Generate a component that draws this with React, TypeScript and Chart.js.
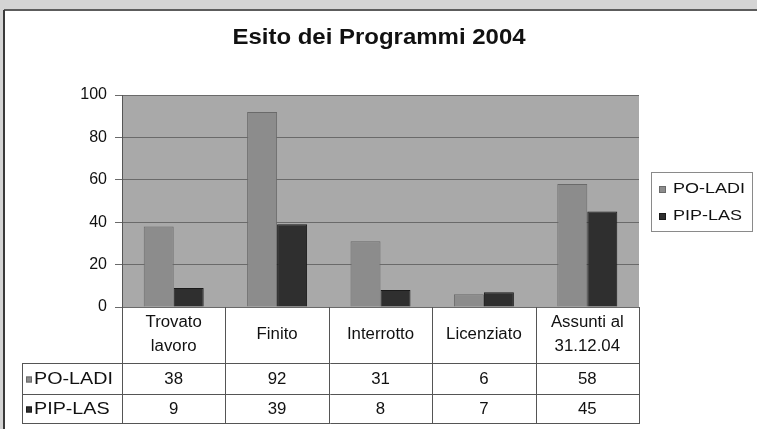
import React, { useEffect, useRef } from "react";
import { Chart, registerables } from "chart.js";

Chart.register(...registerables);

const chartTitle = "Esito dei Programmi 2004";
const categories: string[][] = [
  ["Trovato", "lavoro"],
  ["Finito"],
  ["Interrotto"],
  ["Licenziato"],
  ["Assunti al", "31.12.04"],
];
const seriesNames = ["PO-LADI", "PIP-LAS"];
const poLadi = [38, 92, 31, 6, 58];
const pipLas = [9, 39, 8, 7, 45];
const yMin = 0;
const yMax = 100;
const yStep = 20;

const FONT = "'Liberation Sans', Arial, sans-serif";
const COLORS = ["#8c8c8c", "#2f2f2f"];
const BORDERS = ["#6a6a6a", "#1a1a1a"];

function drawText(
  ctx: CanvasRenderingContext2D,
  text: string,
  x: number,
  y: number,
  font: string,
  align: CanvasTextAlign,
  sx: number
) {
  ctx.save();
  ctx.font = font;
  ctx.textAlign = align;
  ctx.textBaseline = "middle";
  ctx.translate(x, y);
  ctx.scale(sx, 1);
  ctx.fillText(text, 0, 0);
  ctx.restore();
}

const framePlugin = {
  id: "frame",
  beforeDraw(chart: any) {
    const { ctx, width, height, chartArea } = chart;
    ctx.save();
    ctx.fillStyle = "#d4d4d4";
    ctx.fillRect(0, 0, width, height);
    ctx.fillStyle = "#ffffff";
    ctx.fillRect(4, 10, width - 4, height - 10);
    ctx.strokeStyle = "#5c5c5c";
    ctx.lineWidth = 2;
    ctx.beginPath();
    ctx.moveTo(4, 10);
    ctx.lineTo(width, 10);
    ctx.stroke();
    ctx.strokeStyle = "#3a3a3a";
    ctx.beginPath();
    ctx.moveTo(4, 10);
    ctx.lineTo(4, height);
    ctx.stroke();
    ctx.fillStyle = "#a9a9a9";
    ctx.fillRect(chartArea.left, chartArea.top, chartArea.right - chartArea.left, chartArea.bottom - chartArea.top);
    ctx.restore();
  },
  afterDraw(chart: any) {
    const { ctx, chartArea } = chart;
    const xs = chart.scales.x;
    const half = (xs.getPixelForValue(1) - xs.getPixelForValue(0)) / 2;
    const right = chartArea.right;
    const top = chartArea.bottom;
    const headerBottom = top + 56;
    const row1Bottom = headerBottom + 31;
    const row2Bottom = row1Bottom + 29;
    const labelLeft = 22;

    ctx.save();
    ctx.fillStyle = "#111111";
    drawText(ctx, chartTitle, 379, 38, `bold 22px ${FONT}`, "center", 1.09);

    ctx.strokeStyle = "#555555";
    ctx.lineWidth = 1;
    const line = (x1: number, y1: number, x2: number, y2: number) => {
      ctx.beginPath();
      ctx.moveTo(x1, y1);
      ctx.lineTo(x2, y2);
      ctx.stroke();
    };
    line(labelLeft, headerBottom + 0.5, right, headerBottom + 0.5);
    line(labelLeft, row1Bottom + 0.5, right, row1Bottom + 0.5);
    line(labelLeft, row2Bottom + 0.5, right, row2Bottom + 0.5);
    line(labelLeft + 0.5, headerBottom, labelLeft + 0.5, row2Bottom + 1);
    categories.forEach((_, i) => {
      const c = xs.getPixelForValue(i);
      line(Math.round(c - half) + 0.5, top, Math.round(c - half) + 0.5, row2Bottom + 1);
    });
    line(Math.round(right) + 0.5, top, Math.round(right) + 0.5, row2Bottom + 1);

    ctx.fillStyle = "#111111";
    const catFont = `16px ${FONT}`;
    categories.forEach((lines, i) => {
      const c = xs.getPixelForValue(i);
      const mid = (top + headerBottom) / 2;
      const lh = 24;
      lines.forEach((t, k) => {
        drawText(ctx, t, c, mid + (k - (lines.length - 1) / 2) * lh, catFont, "center", 1.05);
      });
    });
    const rows = [poLadi, pipLas];
    const rowMids = [(headerBottom + row1Bottom) / 2 + 1, (row1Bottom + row2Bottom) / 2 + 1];
    rows.forEach((vals, r) => {
      vals.forEach((v, i) => {
        drawText(ctx, String(v), xs.getPixelForValue(i), rowMids[r], catFont, "center", 1.05);
      });
    });
    seriesNames.forEach((name, r) => {
      ctx.fillStyle = COLORS[r];
      ctx.fillRect(26, rowMids[r] - 3, 6, 6);
      ctx.strokeStyle = BORDERS[r];
      ctx.strokeRect(26.5, rowMids[r] - 2.5, 5, 5);
      ctx.fillStyle = "#111111";
      drawText(ctx, name, 34, rowMids[r], `17px ${FONT}`, "left", 1.16);
    });

    const lx = 651;
    const ly = 172;
    const lw = 101;
    const lhgt = 59;
    ctx.fillStyle = "#ffffff";
    ctx.fillRect(lx, ly, lw, lhgt);
    ctx.strokeStyle = "#8a8a8a";
    ctx.strokeRect(lx + 0.5, ly + 0.5, lw, lhgt);
    const items = [189, 216];
    seriesNames.forEach((name, r) => {
      ctx.fillStyle = COLORS[r];
      ctx.fillRect(659, items[r] - 3, 7, 7);
      ctx.strokeStyle = BORDERS[r];
      ctx.strokeRect(659.5, items[r] - 2.5, 6, 6);
      ctx.fillStyle = "#111111";
      drawText(ctx, name, 673, items[r], `15px ${FONT}`, "left", 1.2);
    });
    ctx.restore();
  },
};

export default function App() {
  const ref = useRef<HTMLCanvasElement | null>(null);
  useEffect(() => {
    if (!ref.current) return;
    const chart = new Chart(ref.current, {
      type: "bar",
      data: {
        labels: categories.map((c) => c.join(" ")),
        datasets: [
          {
            label: seriesNames[0],
            data: poLadi,
            backgroundColor: COLORS[0],
            borderColor: BORDERS[0],
            borderWidth: 1,
            categoryPercentage: 0.58,
            barPercentage: 1.0,
          },
          {
            label: seriesNames[1],
            data: pipLas,
            backgroundColor: COLORS[1],
            borderColor: BORDERS[1],
            borderWidth: 1,
            categoryPercentage: 0.58,
            barPercentage: 1.0,
          },
        ],
      },
      options: {
        responsive: false,
        animation: false,
        devicePixelRatio: 1,
        layout: { padding: { left: 0, right: 118, top: 95, bottom: 122 } },
        plugins: {
          legend: { display: false },
          tooltip: { enabled: false },
          title: { display: false },
        },
        scales: {
          x: { display: false },
          y: {
            min: yMin,
            max: yMax,
            ticks: {
              stepSize: yStep,
              color: "#111111",
              padding: 8,
              font: { family: FONT, size: 16 },
            },
            grid: { color: "#6a6a6a", lineWidth: 1, tickLength: 7, drawTicks: true },
            border: { color: "#555555", width: 1 },
            afterFit: (scale: any) => {
              scale.width = 122;
            },
          },
        },
      },
      plugins: [framePlugin],
    });
    return () => chart.destroy();
  }, []);
  return (
    <canvas
      ref={ref}
      width={757}
      height={429}
      style={{ position: "fixed", left: 0, top: 0, width: 757, height: 429 }}
    />
  );
}
